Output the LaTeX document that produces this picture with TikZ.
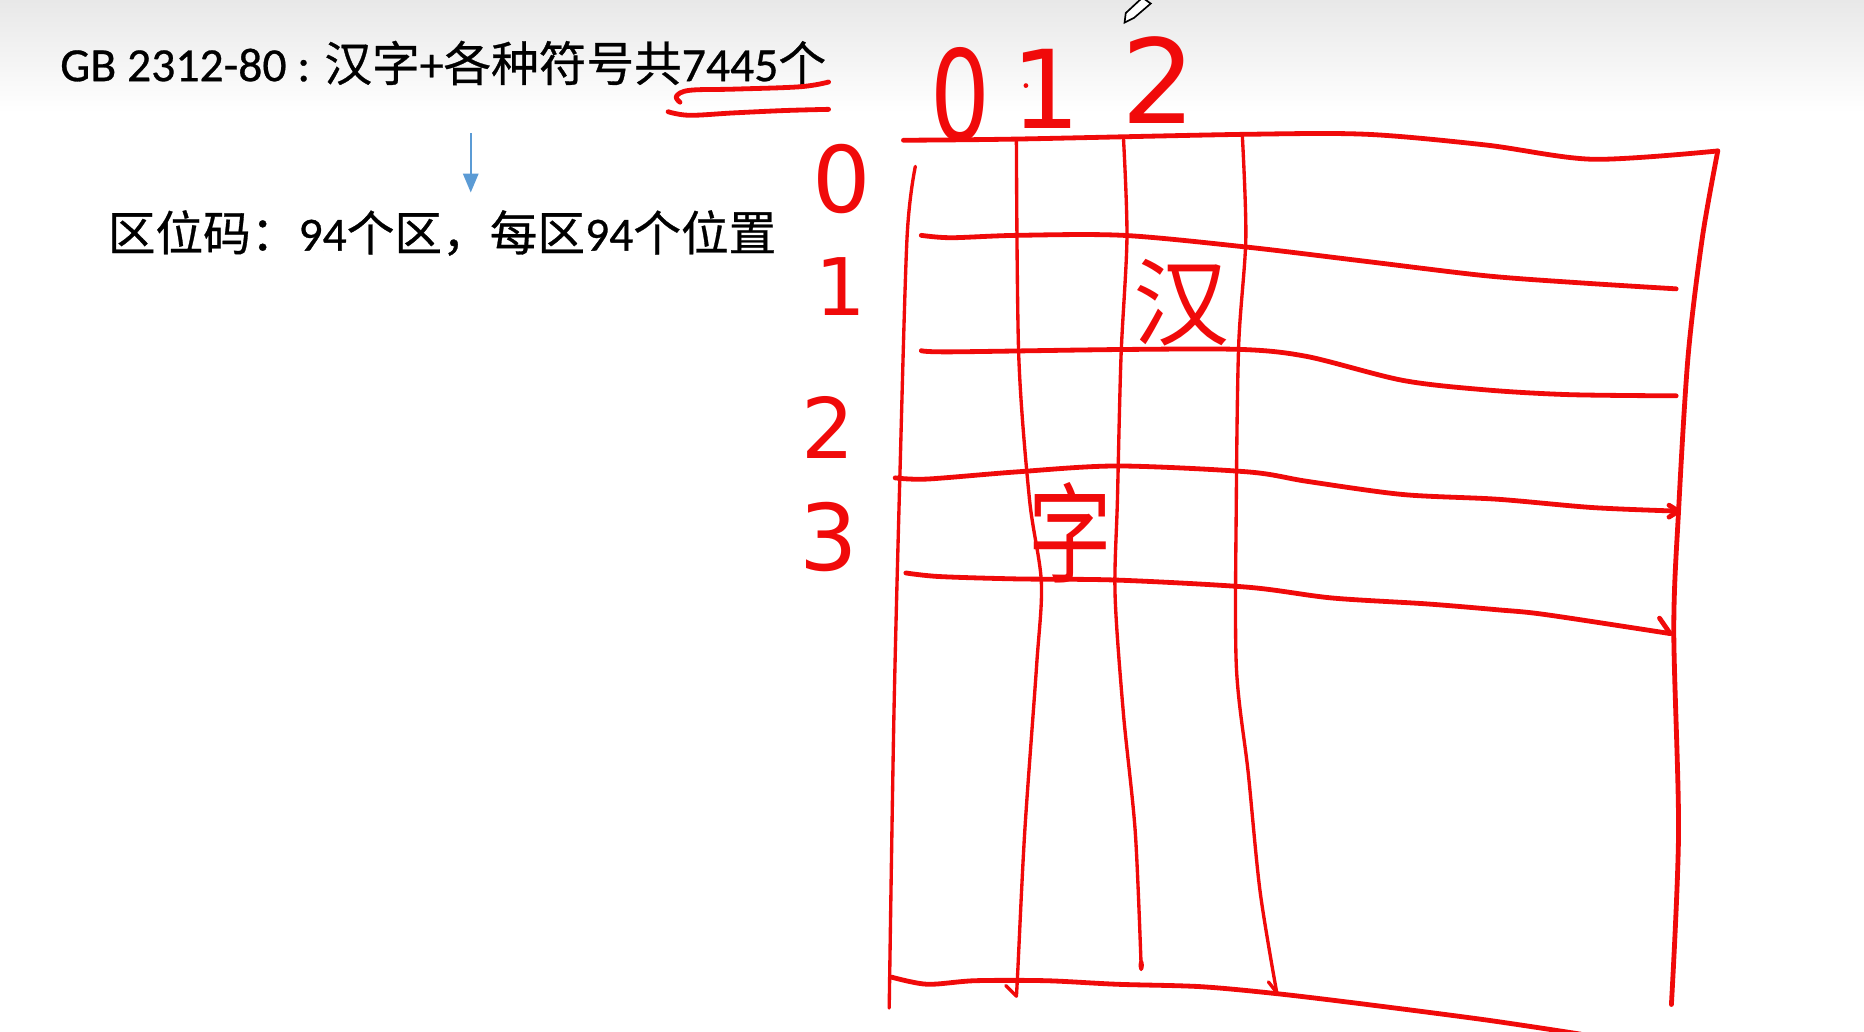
\documentclass[tikz,border=0pt]{standalone}
\usepackage{fontspec}
\newfontfamily\cjk[FakeBold=0.6]{Noto Sans CJK SC}
\newfontfamily\lat[FakeBold=0.6]{Carlito}
\newfontfamily\hand{DejaVu Sans}
\newfontfamily\handcjk{Noto Sans CJK SC}
\usetikzlibrary{arrows.meta}
\definecolor{ink}{RGB}{240,10,10}
\definecolor{arrowblue}{RGB}{91,155,213}
\tikzset{
  pen/.style={draw=ink, line width=1.15pt, line cap=round, line join=round},
  thinpen/.style={draw=ink, line width=0.8pt, line cap=round, line join=round},
  handlbl/.style={text=ink, inner sep=0pt, font=\hand},
  slide/.style={inner sep=0pt, anchor=west, text=black},
}
\begin{document}
\begin{tikzpicture}[x=0.01cm,y=-0.01cm]
\useasboundingbox (0,0) rectangle (1568,868);
\fill[white] (0,0) rectangle (1568,868);
\shade[top color=black!9, bottom color=white] (0,0) rectangle (1568,95);

% slide texts
\node[slide, font=\fontsize{11.4}{13}\selectfont] (t1) at (50,53)
  {{\lat GB 2312-80 : }{\cjk 汉字}{\lat +}{\cjk 各种符号共}{\lat 7445}{\cjk 个}};
\node[slide, font=\fontsize{11.4}{13}\selectfont] (t2) at (90,196)
  {{\cjk 区位码：}{\lat 94}{\cjk 个区，每区}{\lat 94}{\cjk 个位置}};
\coordinate (a1) at (396,112);
\coordinate (a2) at (396,162);
\draw[arrowblue, line width=0.6pt, -{Triangle[length=4.5pt,width=3.6pt]}] (a1) -- (a2);

% underline strokes
\draw[pen] plot[smooth, tension=0.6] coordinates {(572,86) (569,81) (580,76) (617,75) (673,73) (697,69)};
\draw[pen] plot[smooth, tension=0.6] coordinates {(562,94) (580,97) (617,95) (660,93) (697,92)};

% grid: horizontal lines
\draw[pen] plot[smooth, tension=0.5] coordinates {(760,118) (855,117) (1048,113) (1150,113) (1250,122) (1340,134) (1445,127)};
\draw[pen] plot[smooth, tension=0.5] coordinates {(775,198) (800,200) (855,198) (945,198) (1050,208) (1150,220) (1250,232) (1330,238) (1410,243)};
\draw[pen] plot[smooth, tension=0.5] coordinates {(775,295) (800,296) (945,294) (1045,294) (1100,300) (1180,320) (1250,328) (1320,332) (1410,333)};
\draw[pen] plot[smooth, tension=0.5] coordinates {(753,402) (780,403) (855,397) (940,392) (1050,397) (1100,405) (1180,416) (1260,420) (1340,427) (1412,430)};
\draw[pen] (1404,425) -- (1412,430) -- (1404,435);
\draw[pen] plot[smooth, tension=0.5] coordinates {(762,482) (790,485) (855,487) (940,488) (1050,494) (1120,503) (1200,508) (1260,513) (1300,517) (1405,533)};
\draw[pen] (1396,520) -- (1405,533);
\draw[pen] plot[smooth, tension=0.5] coordinates {(750,822) (780,828) (820,825) (880,825) (940,828) (1010,830) (1075,836) (1150,845) (1250,858) (1330,870)};

% grid: vertical lines
\draw[thinpen] plot[smooth, tension=0.5] coordinates {(770,140) (763,200) (757,400) (752,600) (748,848)};
\draw[thinpen] plot[smooth, tension=0.5] coordinates {(855,118) (857,300) (866,420) (876,490) (872,560) (862,700) (856,820) (855,838)};
\draw[thinpen] (855,838) -- (846,829);
\draw[thinpen] plot[smooth, tension=0.5] coordinates {(945,115) (948,200) (943,300) (940,420) (938,500) (945,600) (955,700) (960,815)};
\fill[ink] (960,812) ellipse (2.2 and 5);
\draw[thinpen] plot[smooth, tension=0.5] coordinates {(1045,113) (1048,200) (1042,290) (1040,420) (1040,560) (1050,650) (1060,750) (1074,835)};
\draw[thinpen] (1074,835) -- (1067,826);
\draw[pen] plot[smooth, tension=0.5] coordinates {(1445,127) (1432,200) (1420,300) (1412,430) (1408,530) (1412,700) (1406,845)};

% hand-written labels
\node[handlbl, font=\hand\fontsize{30}{30}\selectfont, xscale=0.75] (c0) at (808,80) {0};
\fill[ink] (863,72) circle (2);
\node[handlbl, font=\hand\fontsize{26}{26}\selectfont] (c1) at (880,75) {1};
\node[handlbl, font=\hand\fontsize{28}{28}\selectfont] (c2) at (975,67) {2};
\node[handlbl, font=\hand\fontsize{22}{22}\selectfont] (r0) at (708,151) {0};
\node[handlbl, font=\hand\fontsize{19}{19}\selectfont] (r1) at (707,241) {1};
\node[handlbl, font=\hand\fontsize{20}{20}\selectfont] (r2) at (697,360) {2};
\node[handlbl, font=\hand\fontsize{22}{22}\selectfont] (r3) at (697,452) {3};
\node[handlbl, font=\handcjk\fontsize{23}{23}\selectfont] (han) at (994,255) {汉};
\node[handlbl, font=\handcjk\fontsize{20}{20}\selectfont, yscale=1.3] (zi) at (900,448) {字};

% pen cursor
\draw[black, fill=white, line width=0.4pt] (946,19) -- (947,11) -- (961,-2) -- (968,3) -- (954,15) -- cycle;
\end{tikzpicture}
\end{document}
